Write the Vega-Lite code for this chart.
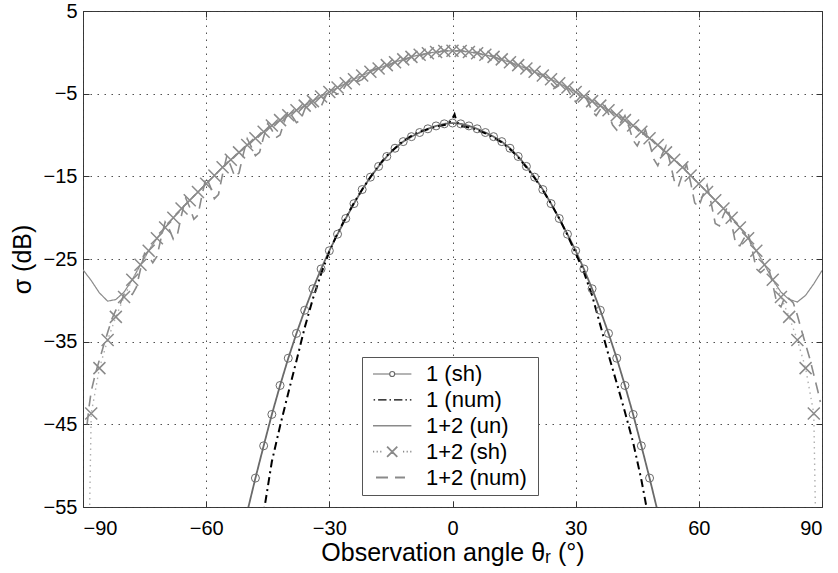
{
"$schema": "https://vega.github.io/schema/vega-lite/v6.json",
"width": 739, "height": 496,
"autosize": "none",
"padding": {"left": 83, "top": 11, "right": 16, "bottom": 66},
"background": "white",
"config": {
  "view": {"stroke": "#3a3a3a", "strokeWidth": 1},
  "font": "Liberation Sans",
  "axis": {"labelFont": "Liberation Sans", "titleFont": "Liberation Sans", "labelColor": "#000", "titleColor": "#000", "titleFontWeight": "normal", "gridColor": "#333", "gridDash": [1.5, 5.5], "gridWidth": 1, "gridOpacity": 0.85, "domain": false, "tickColor": "#333", "tickSize": -6, "tickWidth": 1}
},
"datasets": {"d": [
{"s":"1 (sh)","t":-52,"v":-59.8},{"s":"1 (sh)","t":-50,"v":-55.6},{"s":"1 (sh)","t":-48,"v":-51.5},{"s":"1 (sh)","t":-46,"v":-47.6},{"s":"1 (sh)","t":-44,"v":-43.8},{"s":"1 (sh)","t":-42,"v":-40.3},{"s":"1 (sh)","t":-40,"v":-37.0},{"s":"1 (sh)","t":-38,"v":-34.0},{"s":"1 (sh)","t":-36,"v":-31.2},{"s":"1 (sh)","t":-34,"v":-28.6},{"s":"1 (sh)","t":-32,"v":-26.2},{"s":"1 (sh)","t":-30,"v":-24.0},{"s":"1 (sh)","t":-28,"v":-22.0},{"s":"1 (sh)","t":-26,"v":-20.1},{"s":"1 (sh)","t":-24,"v":-18.3},{"s":"1 (sh)","t":-22,"v":-16.6},{"s":"1 (sh)","t":-20,"v":-15.1},{"s":"1 (sh)","t":-18,"v":-13.8},{"s":"1 (sh)","t":-16,"v":-12.6},{"s":"1 (sh)","t":-14,"v":-11.6},{"s":"1 (sh)","t":-12,"v":-10.8},{"s":"1 (sh)","t":-10,"v":-10.2},{"s":"1 (sh)","t":-8,"v":-9.7},{"s":"1 (sh)","t":-6,"v":-9.25},{"s":"1 (sh)","t":-4,"v":-8.9},{"s":"1 (sh)","t":-2,"v":-8.65},{"s":"1 (sh)","t":0,"v":-8.55},{"s":"1 (sh)","t":2,"v":-8.65},{"s":"1 (sh)","t":4,"v":-8.9},{"s":"1 (sh)","t":6,"v":-9.25},{"s":"1 (sh)","t":8,"v":-9.7},{"s":"1 (sh)","t":10,"v":-10.2},{"s":"1 (sh)","t":12,"v":-10.8},{"s":"1 (sh)","t":14,"v":-11.6},{"s":"1 (sh)","t":16,"v":-12.6},{"s":"1 (sh)","t":18,"v":-13.8},{"s":"1 (sh)","t":20,"v":-15.1},{"s":"1 (sh)","t":22,"v":-16.6},{"s":"1 (sh)","t":24,"v":-18.3},{"s":"1 (sh)","t":26,"v":-20.1},{"s":"1 (sh)","t":28,"v":-22.0},{"s":"1 (sh)","t":30,"v":-24.0},{"s":"1 (sh)","t":32,"v":-26.2},{"s":"1 (sh)","t":34,"v":-28.6},{"s":"1 (sh)","t":36,"v":-31.2},{"s":"1 (sh)","t":38,"v":-34.0},{"s":"1 (sh)","t":40,"v":-37.0},{"s":"1 (sh)","t":42,"v":-40.3},{"s":"1 (sh)","t":44,"v":-43.8},{"s":"1 (sh)","t":46,"v":-47.6},{"s":"1 (sh)","t":48,"v":-51.5},{"s":"1 (sh)","t":50,"v":-55.6},{"s":"1 (sh)","t":52,"v":-59.8},
{"s":"1 (num)","t":-47,"v":-58.8},{"s":"1 (num)","t":-46,"v":-55.7},{"s":"1 (num)","t":-45,"v":-52.6},{"s":"1 (num)","t":-44,"v":-49.5},{"s":"1 (num)","t":-42,"v":-45.2},{"s":"1 (num)","t":-40,"v":-41.2},{"s":"1 (num)","t":-38,"v":-37.3},{"s":"1 (num)","t":-36,"v":-33.3},{"s":"1 (num)","t":-34,"v":-29.8},{"s":"1 (num)","t":-32,"v":-26.8},{"s":"1 (num)","t":-30,"v":-24.1},{"s":"1 (num)","t":-28,"v":-21.9},{"s":"1 (num)","t":-26,"v":-20.0},{"s":"1 (num)","t":-24,"v":-18.2},{"s":"1 (num)","t":-22,"v":-16.6},{"s":"1 (num)","t":-20,"v":-15.1},{"s":"1 (num)","t":-18,"v":-13.7},{"s":"1 (num)","t":-16,"v":-12.5},{"s":"1 (num)","t":-14,"v":-11.6},{"s":"1 (num)","t":-12,"v":-10.7},{"s":"1 (num)","t":-10,"v":-10.1},{"s":"1 (num)","t":-8,"v":-9.6},{"s":"1 (num)","t":-6,"v":-9.3},{"s":"1 (num)","t":-4,"v":-9.0},{"s":"1 (num)","t":-2,"v":-8.8},{"s":"1 (num)","t":-1,"v":-8.6},{"s":"1 (num)","t":0,"v":-8.0},{"s":"1 (num)","t":0.5,"v":-7.5},{"s":"1 (num)","t":1,"v":-8.4},{"s":"1 (num)","t":2,"v":-8.9},{"s":"1 (num)","t":4,"v":-9.1},{"s":"1 (num)","t":6,"v":-9.4},{"s":"1 (num)","t":8,"v":-9.8},{"s":"1 (num)","t":10,"v":-10.3},{"s":"1 (num)","t":12,"v":-10.9},{"s":"1 (num)","t":14,"v":-11.7},{"s":"1 (num)","t":16,"v":-12.7},{"s":"1 (num)","t":18,"v":-13.9},{"s":"1 (num)","t":20,"v":-15.2},{"s":"1 (num)","t":22,"v":-16.7},{"s":"1 (num)","t":24,"v":-18.3},{"s":"1 (num)","t":26,"v":-20.1},{"s":"1 (num)","t":28,"v":-22.1},{"s":"1 (num)","t":30,"v":-24.3},{"s":"1 (num)","t":32,"v":-26.6},{"s":"1 (num)","t":34,"v":-29.4},{"s":"1 (num)","t":36,"v":-33.0},{"s":"1 (num)","t":38,"v":-36.6},{"s":"1 (num)","t":40,"v":-40.0},{"s":"1 (num)","t":42,"v":-43.5},{"s":"1 (num)","t":44,"v":-47.2},{"s":"1 (num)","t":46,"v":-51.7},{"s":"1 (num)","t":48,"v":-57.0},
{"s":"1+2 (un)","t":-90,"v":-26.3},{"s":"1+2 (un)","t":-88,"v":-27.6},{"s":"1+2 (un)","t":-86,"v":-29.1},{"s":"1+2 (un)","t":-84,"v":-30.1},{"s":"1+2 (un)","t":-82,"v":-29.9},{"s":"1+2 (un)","t":-80,"v":-29.0},{"s":"1+2 (un)","t":-78,"v":-27.5},{"s":"1+2 (un)","t":-76,"v":-25.7},{"s":"1+2 (un)","t":-74,"v":-24.0},{"s":"1+2 (un)","t":-72,"v":-22.5},{"s":"1+2 (un)","t":-70,"v":-21.2},{"s":"1+2 (un)","t":-68,"v":-20.0},{"s":"1+2 (un)","t":-66,"v":-18.9},{"s":"1+2 (un)","t":-64,"v":-17.9},{"s":"1+2 (un)","t":-62,"v":-16.9},{"s":"1+2 (un)","t":-60,"v":-15.9},{"s":"1+2 (un)","t":-58,"v":-14.9},{"s":"1+2 (un)","t":-56,"v":-13.9},{"s":"1+2 (un)","t":-54,"v":-13.0},{"s":"1+2 (un)","t":-52,"v":-12.1},{"s":"1+2 (un)","t":-50,"v":-11.2},{"s":"1+2 (un)","t":-48,"v":-10.4},{"s":"1+2 (un)","t":-46,"v":-9.6},{"s":"1+2 (un)","t":-44,"v":-8.85},{"s":"1+2 (un)","t":-42,"v":-8.2},{"s":"1+2 (un)","t":-40,"v":-7.6},{"s":"1+2 (un)","t":-38,"v":-7.0},{"s":"1+2 (un)","t":-36,"v":-6.45},{"s":"1+2 (un)","t":-34,"v":-5.9},{"s":"1+2 (un)","t":-32,"v":-5.35},{"s":"1+2 (un)","t":-30,"v":-4.8},{"s":"1+2 (un)","t":-28,"v":-4.25},{"s":"1+2 (un)","t":-26,"v":-3.75},{"s":"1+2 (un)","t":-24,"v":-3.25},{"s":"1+2 (un)","t":-22,"v":-2.8},{"s":"1+2 (un)","t":-20,"v":-2.35},{"s":"1+2 (un)","t":-18,"v":-1.95},{"s":"1+2 (un)","t":-16,"v":-1.55},{"s":"1+2 (un)","t":-14,"v":-1.2},{"s":"1+2 (un)","t":-12,"v":-0.85},{"s":"1+2 (un)","t":-10,"v":-0.55},{"s":"1+2 (un)","t":-8,"v":-0.3},{"s":"1+2 (un)","t":-6,"v":-0.1},{"s":"1+2 (un)","t":-4,"v":0.05},{"s":"1+2 (un)","t":-2,"v":0.15},{"s":"1+2 (un)","t":0,"v":0.2},{"s":"1+2 (un)","t":2,"v":0.15},{"s":"1+2 (un)","t":4,"v":0.05},{"s":"1+2 (un)","t":6,"v":-0.1},{"s":"1+2 (un)","t":8,"v":-0.3},{"s":"1+2 (un)","t":10,"v":-0.55},{"s":"1+2 (un)","t":12,"v":-0.85},{"s":"1+2 (un)","t":14,"v":-1.2},{"s":"1+2 (un)","t":16,"v":-1.55},{"s":"1+2 (un)","t":18,"v":-1.95},{"s":"1+2 (un)","t":20,"v":-2.35},{"s":"1+2 (un)","t":22,"v":-2.8},{"s":"1+2 (un)","t":24,"v":-3.25},{"s":"1+2 (un)","t":26,"v":-3.75},{"s":"1+2 (un)","t":28,"v":-4.25},{"s":"1+2 (un)","t":30,"v":-4.8},{"s":"1+2 (un)","t":32,"v":-5.35},{"s":"1+2 (un)","t":34,"v":-5.9},{"s":"1+2 (un)","t":36,"v":-6.45},{"s":"1+2 (un)","t":38,"v":-7.0},{"s":"1+2 (un)","t":40,"v":-7.6},{"s":"1+2 (un)","t":42,"v":-8.2},{"s":"1+2 (un)","t":44,"v":-8.85},{"s":"1+2 (un)","t":46,"v":-9.6},{"s":"1+2 (un)","t":48,"v":-10.4},{"s":"1+2 (un)","t":50,"v":-11.2},{"s":"1+2 (un)","t":52,"v":-12.1},{"s":"1+2 (un)","t":54,"v":-13.0},{"s":"1+2 (un)","t":56,"v":-13.9},{"s":"1+2 (un)","t":58,"v":-14.9},{"s":"1+2 (un)","t":60,"v":-15.9},{"s":"1+2 (un)","t":62,"v":-16.9},{"s":"1+2 (un)","t":64,"v":-17.9},{"s":"1+2 (un)","t":66,"v":-18.9},{"s":"1+2 (un)","t":68,"v":-20.0},{"s":"1+2 (un)","t":70,"v":-21.2},{"s":"1+2 (un)","t":72,"v":-22.5},{"s":"1+2 (un)","t":74,"v":-24.0},{"s":"1+2 (un)","t":76,"v":-25.7},{"s":"1+2 (un)","t":78,"v":-27.5},{"s":"1+2 (un)","t":80,"v":-29.0},{"s":"1+2 (un)","t":82,"v":-29.9},{"s":"1+2 (un)","t":84,"v":-30.2},{"s":"1+2 (un)","t":86,"v":-29.4},{"s":"1+2 (un)","t":88,"v":-28.0},{"s":"1+2 (un)","t":90,"v":-26.4},
{"s":"1+2 (sh)","t":-89.9,"v":-100},{"s":"1+2 (sh)","t":-88,"v":-43.7},{"s":"1+2 (sh)","t":-86,"v":-38.2},{"s":"1+2 (sh)","t":-84,"v":-34.8},{"s":"1+2 (sh)","t":-82,"v":-32.0},{"s":"1+2 (sh)","t":-80,"v":-29.6},{"s":"1+2 (sh)","t":-78,"v":-27.5},{"s":"1+2 (sh)","t":-76,"v":-25.7},{"s":"1+2 (sh)","t":-74,"v":-24.0},{"s":"1+2 (sh)","t":-72,"v":-22.5},{"s":"1+2 (sh)","t":-70,"v":-21.2},{"s":"1+2 (sh)","t":-68,"v":-20.0},{"s":"1+2 (sh)","t":-66,"v":-18.9},{"s":"1+2 (sh)","t":-64,"v":-17.9},{"s":"1+2 (sh)","t":-62,"v":-16.9},{"s":"1+2 (sh)","t":-60,"v":-15.9},{"s":"1+2 (sh)","t":-58,"v":-14.9},{"s":"1+2 (sh)","t":-56,"v":-13.9},{"s":"1+2 (sh)","t":-54,"v":-13.0},{"s":"1+2 (sh)","t":-52,"v":-12.1},{"s":"1+2 (sh)","t":-50,"v":-11.2},{"s":"1+2 (sh)","t":-48,"v":-10.4},{"s":"1+2 (sh)","t":-46,"v":-9.6},{"s":"1+2 (sh)","t":-44,"v":-8.85},{"s":"1+2 (sh)","t":-42,"v":-8.2},{"s":"1+2 (sh)","t":-40,"v":-7.6},{"s":"1+2 (sh)","t":-38,"v":-7.0},{"s":"1+2 (sh)","t":-36,"v":-6.45},{"s":"1+2 (sh)","t":-34,"v":-5.9},{"s":"1+2 (sh)","t":-32,"v":-5.35},{"s":"1+2 (sh)","t":-30,"v":-4.8},{"s":"1+2 (sh)","t":-28,"v":-4.25},{"s":"1+2 (sh)","t":-26,"v":-3.75},{"s":"1+2 (sh)","t":-24,"v":-3.25},{"s":"1+2 (sh)","t":-22,"v":-2.8},{"s":"1+2 (sh)","t":-20,"v":-2.35},{"s":"1+2 (sh)","t":-18,"v":-1.95},{"s":"1+2 (sh)","t":-16,"v":-1.55},{"s":"1+2 (sh)","t":-14,"v":-1.2},{"s":"1+2 (sh)","t":-12,"v":-0.85},{"s":"1+2 (sh)","t":-10,"v":-0.55},{"s":"1+2 (sh)","t":-8,"v":-0.3},{"s":"1+2 (sh)","t":-6,"v":-0.1},{"s":"1+2 (sh)","t":-4,"v":0.05},{"s":"1+2 (sh)","t":-2,"v":0.15},{"s":"1+2 (sh)","t":0,"v":0.2},{"s":"1+2 (sh)","t":2,"v":0.15},{"s":"1+2 (sh)","t":4,"v":0.05},{"s":"1+2 (sh)","t":6,"v":-0.1},{"s":"1+2 (sh)","t":8,"v":-0.3},{"s":"1+2 (sh)","t":10,"v":-0.55},{"s":"1+2 (sh)","t":12,"v":-0.85},{"s":"1+2 (sh)","t":14,"v":-1.2},{"s":"1+2 (sh)","t":16,"v":-1.55},{"s":"1+2 (sh)","t":18,"v":-1.95},{"s":"1+2 (sh)","t":20,"v":-2.35},{"s":"1+2 (sh)","t":22,"v":-2.8},{"s":"1+2 (sh)","t":24,"v":-3.25},{"s":"1+2 (sh)","t":26,"v":-3.75},{"s":"1+2 (sh)","t":28,"v":-4.25},{"s":"1+2 (sh)","t":30,"v":-4.8},{"s":"1+2 (sh)","t":32,"v":-5.35},{"s":"1+2 (sh)","t":34,"v":-5.9},{"s":"1+2 (sh)","t":36,"v":-6.45},{"s":"1+2 (sh)","t":38,"v":-7.0},{"s":"1+2 (sh)","t":40,"v":-7.6},{"s":"1+2 (sh)","t":42,"v":-8.2},{"s":"1+2 (sh)","t":44,"v":-8.85},{"s":"1+2 (sh)","t":46,"v":-9.6},{"s":"1+2 (sh)","t":48,"v":-10.4},{"s":"1+2 (sh)","t":50,"v":-11.2},{"s":"1+2 (sh)","t":52,"v":-12.1},{"s":"1+2 (sh)","t":54,"v":-13.0},{"s":"1+2 (sh)","t":56,"v":-13.9},{"s":"1+2 (sh)","t":58,"v":-14.9},{"s":"1+2 (sh)","t":60,"v":-15.9},{"s":"1+2 (sh)","t":62,"v":-16.9},{"s":"1+2 (sh)","t":64,"v":-17.9},{"s":"1+2 (sh)","t":66,"v":-18.9},{"s":"1+2 (sh)","t":68,"v":-20.0},{"s":"1+2 (sh)","t":70,"v":-21.2},{"s":"1+2 (sh)","t":72,"v":-22.5},{"s":"1+2 (sh)","t":74,"v":-24.0},{"s":"1+2 (sh)","t":76,"v":-25.7},{"s":"1+2 (sh)","t":78,"v":-27.5},{"s":"1+2 (sh)","t":80,"v":-29.6},{"s":"1+2 (sh)","t":82,"v":-32.0},{"s":"1+2 (sh)","t":84,"v":-34.8},{"s":"1+2 (sh)","t":86,"v":-38.2},{"s":"1+2 (sh)","t":88,"v":-43.7},{"s":"1+2 (sh)","t":89.9,"v":-100},
{"s":"1+2 (num)","t":-89,"v":-45.0},{"s":"1+2 (num)","t":-88.5,"v":-42.8},{"s":"1+2 (num)","t":-88,"v":-41.0},{"s":"1+2 (num)","t":-87,"v":-38.9},{"s":"1+2 (num)","t":-86,"v":-37.2},{"s":"1+2 (num)","t":-85,"v":-35.5},{"s":"1+2 (num)","t":-84,"v":-33.9},{"s":"1+2 (num)","t":-83,"v":-32.3},{"s":"1+2 (num)","t":-82,"v":-31.2},{"s":"1+2 (num)","t":-81,"v":-30.5},{"s":"1+2 (num)","t":-80,"v":-29.24},{"s":"1+2 (num)","t":-79,"v":-29.09},{"s":"1+2 (num)","t":-78,"v":-29.3},{"s":"1+2 (num)","t":-77,"v":-28.4},{"s":"1+2 (num)","t":-76,"v":-26.24},{"s":"1+2 (num)","t":-75,"v":-24.31},{"s":"1+2 (num)","t":-74,"v":-24.66},{"s":"1+2 (num)","t":-73,"v":-25.45},{"s":"1+2 (num)","t":-72,"v":-24.7},{"s":"1+2 (num)","t":-71,"v":-22.51},{"s":"1+2 (num)","t":-70,"v":-20.54},{"s":"1+2 (num)","t":-69,"v":-21.38},{"s":"1+2 (num)","t":-68,"v":-22.6},{"s":"1+2 (num)","t":-67,"v":-22.05},{"s":"1+2 (num)","t":-66,"v":-19.68},{"s":"1+2 (num)","t":-65,"v":-17.62},{"s":"1+2 (num)","t":-64,"v":-18.74},{"s":"1+2 (num)","t":-63,"v":-20.2},{"s":"1+2 (num)","t":-62,"v":-19.7},{"s":"1+2 (num)","t":-61,"v":-17.24},{"s":"1+2 (num)","t":-60,"v":-15.06},{"s":"1+2 (num)","t":-59,"v":-16.24},{"s":"1+2 (num)","t":-58,"v":-17.7},{"s":"1+2 (num)","t":-57,"v":-17.2},{"s":"1+2 (num)","t":-56,"v":-14.74},{"s":"1+2 (num)","t":-55,"v":-12.61},{"s":"1+2 (num)","t":-54,"v":-13.75},{"s":"1+2 (num)","t":-53,"v":-15.05},{"s":"1+2 (num)","t":-52,"v":-14.6},{"s":"1+2 (num)","t":-51,"v":-12.4},{"s":"1+2 (num)","t":-50,"v":-10.45},{"s":"1+2 (num)","t":-49,"v":-11.43},{"s":"1+2 (num)","t":-48,"v":-12.5},{"s":"1+2 (num)","t":-47,"v":-12.1},{"s":"1+2 (num)","t":-46,"v":-10.23},{"s":"1+2 (num)","t":-45,"v":-8.59},{"s":"1+2 (num)","t":-44,"v":-9.39},{"s":"1+2 (num)","t":-43,"v":-10.32},{"s":"1+2 (num)","t":-42,"v":-10.0},{"s":"1+2 (num)","t":-41,"v":-8.44},{"s":"1+2 (num)","t":-40,"v":-7.06},{"s":"1+2 (num)","t":-39,"v":-7.75},{"s":"1+2 (num)","t":-38,"v":-8.5},{"s":"1+2 (num)","t":-37,"v":-8.22},{"s":"1+2 (num)","t":-36,"v":-6.9},{"s":"1+2 (num)","t":-35,"v":-5.72},{"s":"1+2 (num)","t":-34,"v":-6.26},{"s":"1+2 (num)","t":-33,"v":-6.82},{"s":"1+2 (num)","t":-32,"v":-6.55},{"s":"1+2 (num)","t":-31,"v":-5.43},{"s":"1+2 (num)","t":-30,"v":-4.44},{"s":"1+2 (num)","t":-29,"v":-4.76},{"s":"1+2 (num)","t":-28,"v":-5.05},{"s":"1+2 (num)","t":-27,"v":-4.8},{"s":"1+2 (num)","t":-26,"v":-3.99},{"s":"1+2 (num)","t":-25,"v":-3.26},{"s":"1+2 (num)","t":-24,"v":-3.4},{"s":"1+2 (num)","t":-23,"v":-3.52},{"s":"1+2 (num)","t":-22,"v":-3.3},{"s":"1+2 (num)","t":-21,"v":-2.72},{"s":"1+2 (num)","t":-20,"v":-2.2},{"s":"1+2 (num)","t":-18,"v":-1.9},{"s":"1+2 (num)","t":-16,"v":-1.8},{"s":"1+2 (num)","t":-14,"v":-1.1},{"s":"1+2 (num)","t":-12,"v":-1.0},{"s":"1+2 (num)","t":-10,"v":-0.5},{"s":"1+2 (num)","t":-8,"v":-0.45},{"s":"1+2 (num)","t":-6,"v":-0.05},{"s":"1+2 (num)","t":-4,"v":-0.1},{"s":"1+2 (num)","t":-2,"v":0.25},{"s":"1+2 (num)","t":0,"v":0.1},{"s":"1+2 (num)","t":2,"v":0.25},{"s":"1+2 (num)","t":4,"v":-0.05},{"s":"1+2 (num)","t":6,"v":0.0},{"s":"1+2 (num)","t":8,"v":-0.45},{"s":"1+2 (num)","t":10,"v":-0.45},{"s":"1+2 (num)","t":12,"v":-1.05},{"s":"1+2 (num)","t":14,"v":-1.1},{"s":"1+2 (num)","t":16,"v":-1.8},{"s":"1+2 (num)","t":18,"v":-1.85},{"s":"1+2 (num)","t":20,"v":-2.85},{"s":"1+2 (num)","t":21,"v":-2.72},{"s":"1+2 (num)","t":22,"v":-2.65},{"s":"1+2 (num)","t":23,"v":-3.17},{"s":"1+2 (num)","t":24,"v":-3.75},{"s":"1+2 (num)","t":25,"v":-4.3},{"s":"1+2 (num)","t":26,"v":-3.99},{"s":"1+2 (num)","t":27,"v":-3.76},{"s":"1+2 (num)","t":28,"v":-4.49},{"s":"1+2 (num)","t":29,"v":-5.32},{"s":"1+2 (num)","t":30,"v":-6.0},{"s":"1+2 (num)","t":31,"v":-5.43},{"s":"1+2 (num)","t":32,"v":-4.99},{"s":"1+2 (num)","t":33,"v":-5.98},{"s":"1+2 (num)","t":34,"v":-7.1},{"s":"1+2 (num)","t":35,"v":-7.67},{"s":"1+2 (num)","t":36,"v":-6.9},{"s":"1+2 (num)","t":37,"v":-6.27},{"s":"1+2 (num)","t":38,"v":-7.45},{"s":"1+2 (num)","t":39,"v":-8.8},{"s":"1+2 (num)","t":40,"v":-9.4},{"s":"1+2 (num)","t":41,"v":-8.44},{"s":"1+2 (num)","t":42,"v":-7.66},{"s":"1+2 (num)","t":43,"v":-9.06},{"s":"1+2 (num)","t":44,"v":-10.65},{"s":"1+2 (num)","t":45,"v":-11.32},{"s":"1+2 (num)","t":46,"v":-10.23},{"s":"1+2 (num)","t":47,"v":-9.37},{"s":"1+2 (num)","t":48,"v":-11.03},{"s":"1+2 (num)","t":49,"v":-12.9},{"s":"1+2 (num)","t":50,"v":-13.7},{"s":"1+2 (num)","t":51,"v":-12.4},{"s":"1+2 (num)","t":52,"v":-11.35},{"s":"1+2 (num)","t":53,"v":-13.3},{"s":"1+2 (num)","t":54,"v":-15.5},{"s":"1+2 (num)","t":55,"v":-16.25},{"s":"1+2 (num)","t":56,"v":-14.74},{"s":"1+2 (num)","t":57,"v":-13.56},{"s":"1+2 (num)","t":58,"v":-15.74},{"s":"1+2 (num)","t":59,"v":-18.2},{"s":"1+2 (num)","t":60,"v":-18.7},{"s":"1+2 (num)","t":61,"v":-17.24},{"s":"1+2 (num)","t":62,"v":-16.06},{"s":"1+2 (num)","t":63,"v":-18.24},{"s":"1+2 (num)","t":64,"v":-20.7},{"s":"1+2 (num)","t":65,"v":-21.0},{"s":"1+2 (num)","t":66,"v":-19.68},{"s":"1+2 (num)","t":67,"v":-18.67},{"s":"1+2 (num)","t":68,"v":-20.78},{"s":"1+2 (num)","t":69,"v":-23.2},{"s":"1+2 (num)","t":70,"v":-23.4},{"s":"1+2 (num)","t":71,"v":-22.51},{"s":"1+2 (num)","t":72,"v":-21.84},{"s":"1+2 (num)","t":73,"v":-23.91},{"s":"1+2 (num)","t":74,"v":-26.2},{"s":"1+2 (num)","t":75,"v":-26.65},{"s":"1+2 (num)","t":76,"v":-26.24},{"s":"1+2 (num)","t":77,"v":-26.06},{"s":"1+2 (num)","t":78,"v":-28.04},{"s":"1+2 (num)","t":79,"v":-30.35},{"s":"1+2 (num)","t":80,"v":-30.8},{"s":"1+2 (num)","t":81,"v":-29.5},{"s":"1+2 (num)","t":82,"v":-29.8},{"s":"1+2 (num)","t":83,"v":-30.3},{"s":"1+2 (num)","t":84,"v":-31.8},{"s":"1+2 (num)","t":85,"v":-33.6},{"s":"1+2 (num)","t":86,"v":-35.3},{"s":"1+2 (num)","t":87,"v":-37.0},{"s":"1+2 (num)","t":88,"v":-39.0},{"s":"1+2 (num)","t":89,"v":-41.0},{"s":"1+2 (num)","t":89.6,"v":-42.3}
]},
"data": {"name": "d"},
"resolve": {"axis": {"x": "independent", "y": "independent"}, "scale": {"color": "independent", "strokeWidth": "independent", "shape": "independent"}, "legend": {"color": "independent", "strokeWidth": "independent", "shape": "independent"}},
"layer": [
  {
    "mark": {"type": "line", "clip": true, "strokeCap": "butt"},
    "encoding": {
      "x": {"field": "t", "type": "quantitative", "scale": {"domain": [-90, 90], "nice": false, "zero": false},
        "axis": {"orient": "bottom", "values": [-90, -60, -30, 0, 30, 60, 90], "grid": true, "labelFontSize": 20, "labelPadding": 17, "title": "Observation angle θᵣ (°)", "titleFontSize": 25, "titlePadding": 2}},
      "y": {"field": "v", "type": "quantitative", "scale": {"domain": [-55, 5], "nice": false, "zero": false},
        "axis": {"orient": "left", "values": [5, -5, -15, -25, -35, -45, -55], "grid": true, "labelFontSize": 20, "labelPadding": 12, "title": "σ (dB)", "titleFontSize": 25, "titlePadding": 8}},
      "color": {"field": "s", "type": "nominal", "scale": {"domain": ["1 (num)", "1 (sh)", "1+2 (num)", "1+2 (sh)", "1+2 (un)"], "range": ["#000000", "#6a6a6a", "#8a8a8a", "#b0b0b0", "#8a8a8a"]}, "legend": null},
      "strokeDash": {"field": "s", "type": "nominal", "scale": {"domain": ["1 (num)", "1 (sh)", "1+2 (num)", "1+2 (sh)", "1+2 (un)"], "range": [[8, 4, 2, 4], [1, 0], [11, 7], [1.5, 4], [1, 0]]}, "legend": null},
      "strokeWidth": {"field": "s", "type": "ordinal", "scale": {"domain": ["1 (num)", "1 (sh)", "1+2 (num)", "1+2 (sh)", "1+2 (un)"], "range": [2, 1.2, 3.5, 1.5, 1.3]}, "legend": null}
    }
  },
  {
    "transform": [{"filter": "datum.s === '1+2 (sh)' && abs(datum.t) <= 88"}],
    "mark": {"type": "point", "shape": "M-1,-1L1,1M-1,1L1,-1", "filled": false, "stroke": "#8a8a8a", "strokeWidth": 1.5, "size": 144, "opacity": 1, "clip": true},
    "encoding": {
      "x": {"field": "t", "type": "quantitative", "axis": {"orient": "top", "values": [-90, -60, -30, 0, 30, 60, 90], "grid": false, "labels": false, "title": null}},
      "y": {"field": "v", "type": "quantitative", "axis": {"orient": "right", "values": [5, -5, -15, -25, -35, -45, -55], "grid": false, "labels": false, "title": null}}
    }
  },
  {
    "transform": [{"filter": "datum.s === '1 (sh)' && abs(datum.t) <= 48"}],
    "mark": {"type": "point", "shape": "circle", "filled": false, "stroke": "#6a6a6a", "strokeWidth": 1, "size": 64, "opacity": 1, "clip": true},
    "encoding": {
      "x": {"field": "t", "type": "quantitative", "axis": null},
      "y": {"field": "v", "type": "quantitative", "axis": null}
    }
  },
  {
    "transform": [{"filter": "datum.t === 0"}],
    "mark": {"type": "point", "filled": false, "opacity": 0},
    "encoding": {
      "x": {"field": "t", "type": "quantitative", "axis": null},
      "y": {"field": "v", "type": "quantitative", "axis": null},
      "shape": {"field": "s", "type": "nominal",
        "scale": {"domain": ["1 (sh)", "1 (num)", "1+2 (un)", "1+2 (sh)", "1+2 (num)"],
          "range": ["M-1.0,0H1.78M2.62,0H5.4M1.78,0A0.42,0.42,0,1,1,2.62,0A0.42,0.42,0,1,1,1.78,0", "M-0.9,0H-0.65M-0.15,0H1.25M1.75,0H2.0M2.5,0H3.9M4.4,0H4.65M5.15,0H5.4", "M-1.0,0H5.4", "M-1.0,0H-0.8M-0.4,0H-0.2M0.2,0H0.4M1.35,-0.85L3.05,0.85M1.35,0.85L3.05,-0.85M4.0,0H4.2M4.6,0H4.8M5.2,0H5.4", "M-0.5,0H1.5M2.67,0H4.33"]},
        "legend": {"title": " ", "titleOrient": "right", "titleFontSize": 14, "titlePadding": 5, "orient": "none", "legendX": 279, "legendY": 346, "padding": 6, "strokeColor": "#555", "fillColor": "#ffffff",
          "labelFont": "Liberation Sans", "labelFontSize": 22, "labelColor": "#000", "labelOffset": 36, "rowPadding": 3.9, "symbolSize": 144, "symbolOpacity": 1, "labelLimit": 300}},
      "color": {"field": "s", "type": "nominal",
        "scale": {"domain": ["1 (sh)", "1 (num)", "1+2 (un)", "1+2 (sh)", "1+2 (num)"], "range": ["#6a6a6a", "#000000", "#8a8a8a", "#8a8a8a", "#8a8a8a"]}},
      "strokeWidth": {"field": "s", "type": "ordinal",
        "scale": {"domain": ["1 (sh)", "1 (num)", "1+2 (un)", "1+2 (sh)", "1+2 (num)"], "range": [1.2, 2, 1.3, 1.4, 3.5]}}
    }
  }
]
}
